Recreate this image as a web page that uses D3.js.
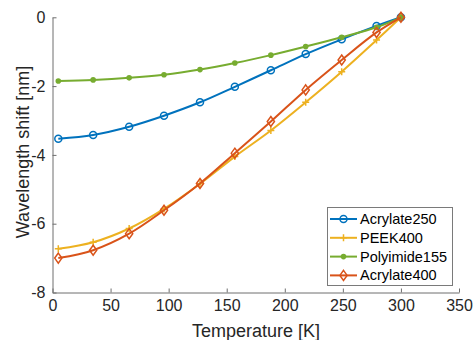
<!DOCTYPE html>
<html>
<head>
<meta charset="utf-8">
<script src="https://cdn.jsdelivr.net/npm/d3@7"></script>
<style>
  html, body { margin: 0; padding: 0; background: #fff; }
  svg { display: block; font-family: "Liberation Sans", Arial, sans-serif; }
</style>
</head>
<body>
<svg id="chart" width="473" height="340"></svg>
<script>
// Measured temperatures [K]
const temperature = [5, 35, 66, 96, 127, 157, 188, 218, 249, 279, 300];

// Wavelength shift [nm] per coating
const acrylate250  = [-3.53, -3.42, -3.18, -2.86, -2.47, -2.02, -1.54, -1.07, -0.64, -0.25, 0];
const peek400      = [-6.73, -6.54, -6.14, -5.57, -4.84, -4.05, -3.29, -2.47, -1.58, -0.66, 0];
const polyimide155 = [-1.85, -1.82, -1.76, -1.67, -1.52, -1.33, -1.10, -0.85, -0.58, -0.29, 0];
const acrylate400  = [-7.00, -6.77, -6.29, -5.61, -4.83, -3.95, -3.03, -2.11, -1.24, -0.44, 0];

const seriesNames = ["Acrylate250", "PEEK400", "Polyimide155", "Acrylate400"];

const xTicks = [0, 50, 100, 150, 200, 250, 300, 350];
const yTicks = [0, -2, -4, -6, -8];

const series = [
  { name: seriesNames[0], values: acrylate250,  color: "#0072BD", marker: "circle" },
  { name: seriesNames[1], values: peek400,      color: "#EDB120", marker: "plus" },
  { name: seriesNames[2], values: polyimide155, color: "#77AC30", marker: "dot" },
  { name: seriesNames[3], values: acrylate400,  color: "#D95319", marker: "diamond" }
];

const svg = d3.select("#chart");
const m = { left: 52.5, right: 459, top: 17.3, bottom: 292.5 };

const x = d3.scaleLinear().domain([0, 350]).range([m.left, m.right]);
const y = d3.scaleLinear().domain([-8, 0]).range([m.bottom, m.top]);

const axisColor = "#262626";

// Axes with inward ticks
const xAxis = svg.append("g")
  .attr("transform", `translate(0,${m.bottom})`)
  .call(d3.axisBottom(x).tickValues(xTicks).tickSizeInner(-4).tickSizeOuter(0).tickPadding(10));
const yAxis = svg.append("g")
  .attr("transform", `translate(${m.left},0)`)
  .call(d3.axisLeft(y).tickValues(yTicks).tickSizeInner(-4).tickSizeOuter(0).tickPadding(7)
    .tickFormat(d => d === 0 ? "0" : String(d).replace("−", "-")));

[xAxis, yAxis].forEach(g => {
  g.select(".domain").attr("stroke", "#6e6e6e").attr("stroke-width", 1);
  g.selectAll(".tick line").attr("stroke", "#6e6e6e");
  g.selectAll(".tick text").attr("fill", axisColor).attr("font-size", 16)
    .attr("font-family", "Liberation Sans, Arial, sans-serif");
});
xAxis.selectAll(".tick text").attr("dy", "0.5em");

// Axis titles
svg.append("text")
  .attr("x", 256).attr("y", 337)
  .attr("text-anchor", "middle").attr("font-size", 18).attr("fill", axisColor)
  .text("Temperature [K]");
svg.append("text")
  .attr("transform", `translate(28.5,152) rotate(-90)`)
  .attr("text-anchor", "middle").attr("font-size", 18).attr("fill", axisColor)
  .text("Wavelength shift [nm]");

const line = d3.line()
  .x((d, i) => x(temperature[i]))
  .y(d => y(d))
  .curve(d3.curveCatmullRom.alpha(0.5));

function drawMarker(g, type, cx, cy, color) {
  if (type === "circle") {
    g.append("circle").attr("cx", cx).attr("cy", cy).attr("r", 3.5)
      .attr("fill", "none").attr("stroke", color).attr("stroke-width", 1.5);
  } else if (type === "plus") {
    g.append("path").attr("d", `M${cx - 3.5},${cy}H${cx + 3.5}M${cx},${cy - 3.5}V${cy + 3.5}`)
      .attr("stroke", color).attr("stroke-width", 1.5);
  } else if (type === "dot") {
    g.append("circle").attr("cx", cx).attr("cy", cy).attr("r", 2.8).attr("fill", color);
  } else if (type === "diamond") {
    g.append("path").attr("d", `M${cx},${cy - 5}L${cx + 3.6},${cy}L${cx},${cy + 5}L${cx - 3.6},${cy}Z`)
      .attr("fill", "none").attr("stroke", color).attr("stroke-width", 1.5);
  }
}

series.forEach(s => {
  const g = svg.append("g");
  g.append("path").datum(s.values).attr("d", line)
    .attr("fill", "none").attr("stroke", s.color).attr("stroke-width", 2);
  s.values.forEach((v, i) => drawMarker(g, s.marker, x(temperature[i]), y(v), s.color));
});

// Legend
const lg = svg.append("g");
lg.append("rect").attr("x", 327.5).attr("y", 207.5).attr("width", 125).attr("height", 78)
  .attr("fill", "#fff").attr("stroke", "#7a7a7a").attr("stroke-width", 1);
series.forEach((s, i) => {
  const yy = 219 + i * 18.8;
  lg.append("line").attr("x1", 330).attr("x2", 357).attr("y1", yy).attr("y2", yy)
    .attr("stroke", s.color).attr("stroke-width", 2);
  drawMarker(lg, s.marker, 343.5, yy, s.color);
  lg.append("text").attr("x", 360).attr("y", yy).attr("dy", "0.35em")
    .attr("font-size", 14.5).attr("fill", "#000").text(s.name);
});
</script>
</body>
</html>
